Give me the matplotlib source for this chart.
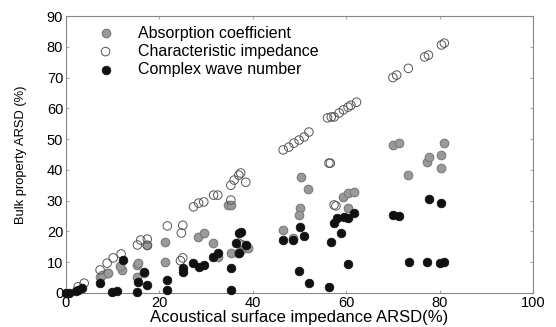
import numpy as np
import matplotlib.pyplot as plt

plt.rcParams['font.family'] = ['Liberation Sans', 'DejaVu Sans']

# Absorption coefficient (grey filled)
abs_x = [7.3, 8.8, 7.7, 9.0, 12.0, 11.6, 15.3, 15.3, 16.6, 17.4, 15.5,
         21.3, 21.3, 28.2, 29.5, 31.4, 32.5, 34.6, 35.3, 35.3, 36.8, 37.4, 38.9,
         46.5, 48.6, 50.3, 51.8, 50.1, 49.9, 59.4, 60.4, 61.7, 60.4,
         70.0, 71.2, 73.3, 77.2, 77.8, 80.4, 81.0, 80.4]
abs_y = [5.2, 6.5, 5.8, 6.5, 7.5, 8.8, 9.1, 5.2, 6.5, 15.6, 9.7,
         16.6, 10.1, 18.2, 19.5, 16.2, 11.7, 28.6, 28.6, 13.0, 13.0, 14.0, 14.6,
         20.5, 17.9, 37.7, 33.8, 27.6, 25.3, 31.2, 32.5, 32.8, 27.6,
         48.0, 48.7, 38.3, 42.5, 44.2, 44.8, 48.7, 40.6]

# Characteristic impedance (open circles)
chr_x = [2.6, 3.9, 7.3, 8.8, 10.1, 11.8, 15.3, 16.0, 17.4, 17.4,
         21.7, 25.0, 24.7, 24.5, 25.0, 27.3, 28.4, 29.5, 31.6, 32.5, 35.3, 35.3,
         36.0, 37.0, 37.4, 38.5, 37.0, 37.8,
         46.5, 47.7, 48.8, 49.9, 51.0, 52.0, 56.0, 56.8, 57.4, 58.5, 59.4,
         60.4, 61.0, 62.2, 56.3, 56.6, 57.4, 57.8,
         70.0, 70.8, 73.3, 76.8, 77.6, 80.4, 81.0]
chr_y = [2.0, 3.2, 7.5, 9.7, 11.4, 12.7, 15.6, 17.2, 17.5, 15.5,
         21.8, 22.0, 19.5, 10.5, 11.4, 28.0, 29.2, 29.6, 31.8, 31.8, 30.2, 35.0,
         36.7, 38.3, 39.0, 36.0, 16.2, 15.6,
         46.5, 47.4, 48.7, 49.7, 50.7, 52.3, 56.9, 57.2, 57.2, 58.5, 59.5,
         60.4, 61.0, 62.0, 42.2, 42.2, 28.6, 28.3,
         70.0, 70.8, 73.0, 76.7, 77.3, 80.6, 81.2]

# Complex wave number (black filled)
cwn_x = [0.0, 0.6, 2.6, 3.4, 2.2, 7.3, 9.9, 11.0, 12.3, 15.3, 15.5, 16.6, 17.4,
         21.7, 21.7, 25.0, 25.0, 27.3, 28.4, 29.5, 31.4, 32.5, 35.3, 35.3,
         37.0, 37.4, 37.0, 38.5, 36.3,
         46.5, 48.6, 50.1, 51.0, 49.9, 52.0, 56.3, 56.8, 57.4, 58.0, 59.6,
         60.4, 61.7, 58.9, 60.4,
         70.0, 71.2, 73.5, 77.2, 80.0, 81.0, 77.8, 80.4]
cwn_y = [0.0, 0.0, 1.0, 1.6, 0.5, 3.2, 0.3, 0.6, 10.7, 0.3, 3.6, 6.8, 2.6,
         4.2, 1.0, 8.1, 6.8, 9.7, 8.4, 9.1, 11.7, 13.0, 8.1, 1.0,
         19.5, 19.8, 13.0, 15.6, 16.2,
         17.2, 17.2, 21.4, 18.5, 7.1, 3.2, 2.0, 16.6, 22.7, 24.4, 24.7,
         24.4, 26.0, 19.5, 9.4,
         25.3, 25.0, 10.1, 10.1, 9.7, 10.1, 30.5, 29.2]

fig = plt.figure(figsize=(5.56, 3.27), dpi=100)
ax = fig.add_axes([0.1187, 0.104, 0.84, 0.847])

ax.scatter(abs_x, abs_y, s=38, c='#9a9a9a', edgecolors='#7a7a7a', linewidths=0.8,
           label='Absorption coefficient', clip_on=False, zorder=3)
ax.scatter(chr_x, chr_y, s=38, facecolors='none', edgecolors='#555555', linewidths=0.7,
           label='Characteristic impedance', clip_on=False, zorder=4)
ax.scatter(cwn_x, cwn_y, s=38, c='#111111', edgecolors='#111111', linewidths=0.6,
           label='Complex wave number', clip_on=False, zorder=5)

ax.set_xlim(0, 100)
ax.set_ylim(0, 90)
ax.set_xticks(np.arange(0, 101, 20))
ax.set_yticks(np.arange(0, 91, 10))
ax.tick_params(direction='in', length=2.5, color='#aaaaaa', top=True, right=True,
               labelsize=10.5, pad=2)
for sp in ax.spines.values():
    sp.set_color('#888888')
    sp.set_linewidth(0.8)

ax.set_xlabel('Acoustical surface impedance ARSD(%)', fontsize=12, labelpad=0)
ax.set_ylabel('Bulk property ARSD (%)', fontsize=9.3, labelpad=14)

ax.legend(loc='upper left', frameon=False, fontsize=11.5, handletextpad=1.0,
          borderaxespad=0.2, labelspacing=0.2, bbox_to_anchor=(0.03, 1.0))

fig.savefig('out.png', dpi=100)
